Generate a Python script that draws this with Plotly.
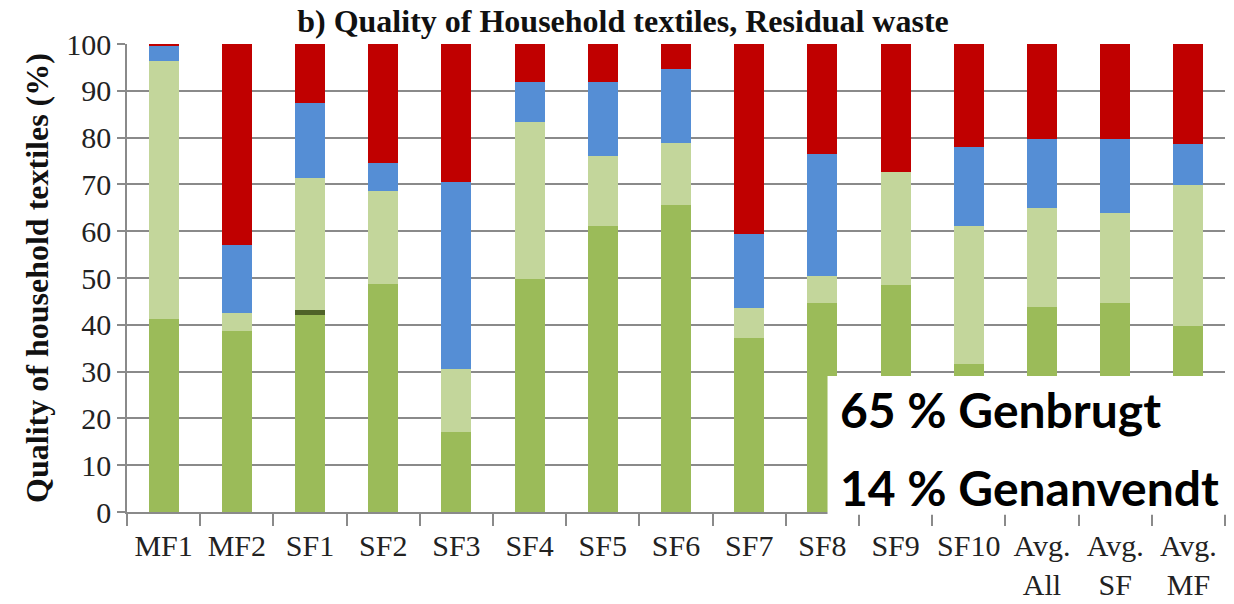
import plotly.graph_objects as go

categories = ["MF1", "MF2", "SF1", "SF2", "SF3", "SF4", "SF5", "SF6", "SF7", "SF8",
              "SF9", "SF10", "Avg.<br>All", "Avg.<br>SF", "Avg.<br>MF"]
green =       [41.3, 38.6, 42.0, 48.7, 17.1, 49.7, 61.2, 65.7, 37.1, 44.6, 48.4, 31.6, 43.9, 44.6, 39.7]
dark_green =  [0, 0, 1.2, 0, 0, 0, 0, 0, 0, 0, 0, 0, 0, 0, 0]
light_green = [55.0, 4.0, 28.1, 19.9, 13.4, 33.7, 14.9, 13.2, 6.4, 5.8, 24.3, 29.6, 21.0, 19.2, 30.2]
blue =        [3.3, 14.5, 16.2, 5.9, 40.0, 8.5, 15.8, 15.7, 15.9, 26.0, 0, 16.7, 14.8, 15.9, 8.7]
red =         [0.4, 42.9, 12.5, 25.5, 29.5, 8.1, 8.1, 5.4, 40.6, 23.6, 27.3, 22.1, 20.3, 20.3, 21.4]

series = [
    ("Green", green, "#9BBB59"),
    ("Dark green", dark_green, "#4F6228"),
    ("Light green", light_green, "#C3D69B"),
    ("Blue", blue, "#558ED5"),
    ("Red", red, "#C00000"),
]

fig = go.Figure()
for name, vals, col in series:
    fig.add_trace(go.Bar(x=categories, y=vals, name=name,
                         marker=dict(color=col, line=dict(width=0))))

serif = "Liberation Serif, Times New Roman, serif"
fig.update_layout(
    width=1234, height=604,
    barmode="stack", bargap=0.59,
    showlegend=False,
    plot_bgcolor="white", paper_bgcolor="white",
    margin=dict(l=127, r=9, t=44, b=92, autoexpand=False),
    title=dict(text="<b>b) Quality of Household textiles, Residual waste</b>",
               x=623 / 1234, xref="container", xanchor="center",
               y=1 - 21 / 604, yref="container", yanchor="middle",
               font=dict(family=serif, size=32, color="#111111")),
    xaxis=dict(tickson="boundaries", ticks="outside", ticklen=12, tickcolor="#8a8a8a",
               tickwidth=1.5, showline=True, linecolor="#8a8a8a", linewidth=1.5,
               ticklabelstandoff=6, automargin=False,
               tickfont=dict(family=serif, size=30, color="#222222"), tickangle=0),
    yaxis=dict(range=[0, 100], dtick=10, ticks="outside", ticklen=8, tickcolor="#8a8a8a",
               tickwidth=1.5, showline=True, linecolor="#8a8a8a", linewidth=1.5,
               gridcolor="#8a8a8a", gridwidth=1.5, zeroline=False, automargin=False,
               tickfont=dict(family=serif, size=30, color="#222222"),
               title=dict(text="<b>Quality of household textiles (%)</b>",
                          font=dict(family=serif, size=32, color="#111111"), standoff=8)),
    shapes=[dict(type="rect", xref="paper", yref="paper", x0=0.638, x1=1.03,
                 y0=-0.006, y1=0.2906, fillcolor="white", line=dict(width=0), layer="above")],
    annotations=[
        dict(text="<b>65 % Genbrugt</b>", xref="paper", yref="paper", x=0.6475, y=0.218,
             xanchor="left", yanchor="middle", showarrow=False,
             font=dict(family="Lato", size=48, color="black")),
        dict(text="<b>14 % Genanvendt</b>", xref="paper", yref="paper", x=0.6475, y=0.053,
             xanchor="left", yanchor="middle", showarrow=False,
             font=dict(family="Lato", size=48, color="black")),
    ],
)

fig.write_html("out.html", config={"displayModeBar": False},
               post_script="document.body.style.margin='0';")
